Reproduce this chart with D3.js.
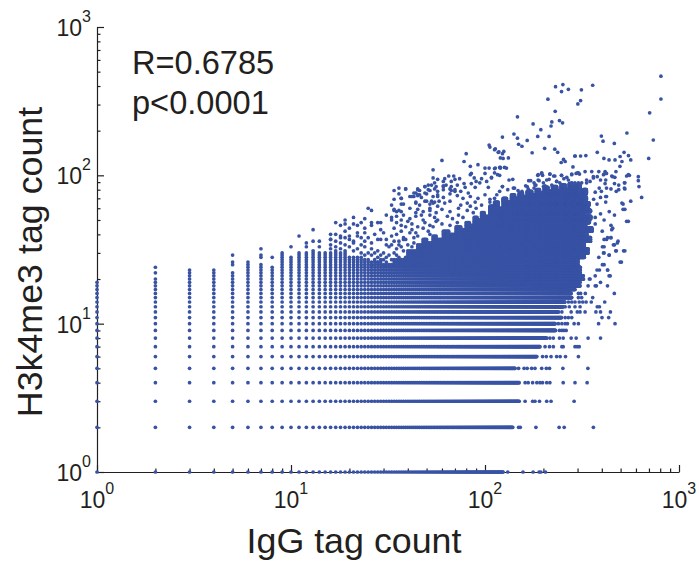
<!DOCTYPE html>
<html>
<head>
<meta charset="utf-8">
<script src="https://cdnjs.cloudflare.com/ajax/libs/d3/7.8.5/d3.min.js"></script>
<style>
  html, body { margin: 0; background: #fff; }
  text { font-family: "Liberation Sans", Arial, sans-serif; fill: #231f20; }
</style>
</head>
<body>
<div id="chart"></div>
<script>
// extents of the solid lattice (tag counts are integers)
const colFromX = [1,2,3,4,5,6,7,8,9,10,11,12,13,14,15,16,20,24,30,34,40,45,48,51,54,57,61,66,71,76,80,84,88,92,96,100,106,112,118,124,130,137,143,150,157,165,175,184,192,202,212,223,235,247,260,272,285,297,310,322,334,345,352,360,390]
const colTopY  = [18,20,23,23,22,26,25,24,30,28,29,30,31,30,30,30,28,26,25,27,31,34,37,35,39,37,42,40,45,43,48,46,52,50,56,53,62,66,60,70,66,74,70,76,72,78,74,80,76,83,78,84,79,86,80,88,82,86,74,80,66,58,44,36,28]

const rowFromY = [1,2,3,4,5,6,7,8,9,10,11,12,13,14,15,16,17,18,20,22,25,28,30,33,36,39,42,45,48,51,54,57,60,63,66,69,72,75,78,81,84,90]
const rowLastX = [124,139,150,150,143,185,192,208,231,230,248,239,253,258,280,278,291,309,321,310,302,325,340,325,350,335,356,330,345,356,320,350,340,356,330,345,325,350,335,310,325,290]

// single points outside the lattice: right-hand tails of the rows
const rowTails = [
  [131,1],[157,1],[177,1],[190,1],[194,1],[205,1],
  [149,2],[152,2],[183,2],[241,2],[256,2],[362,2],
  [161,3],[176,3],[181,3],[191,3],[208,3],[219,3],[288,3],
  [161,4],[167,4],[176,4],[185,4],[192,4],[198,4],[208,4],[216,4],[253,4],[291,4],[336,4],
  [149,5],[159,5],[165,5],[174,5],[181,5],[196,5],[207,5],[215,5],[252,5],[339,5],
  [198,6],[207,6],[219,6],[234,6],[244,6],[260,6],[303,6],
  [204,7],[215,7],[225,7],[249,7],[253,7],[291,7],[299,7],[306,7],
  [216,8],[225,8],[242,8],[253,8],[278,8],[295,8],[340,8],[394,8],
  [242,9],[249,9],[255,9],[262,9],
  [239,10],[249,10],[259,10],[266,10],[288,10],[303,10],[385,10],[468,10],
  [259,11],[269,11],[280,11],[401,11],[434,11],
  [249,12],[278,12],[299,12],[309,12],[328,12],[373,12],[394,12],[443,12],
  [259,13],[272,13],[291,13],[309,13],[379,13],[389,13],
  [269,14],[280,14],[291,14],[306,14],[319,14],[332,14],[353,14],[414,14],
  [303,15],[315,15],[359,15],
  [303,16],[311,16],[329,16],[464,16],
  [345,20],[375,18],[436,21],[389,23],[429,23],[403,25],[497,26],[436,29],[408,30],[472,31],[518,31],[403,33],[459,34],[481,35],[423,37],[445,38],[450,43]
]

// single points above the lattice: the low-count columns
const columnTops = [
  [1,19],[2,22],[2,24],[5,25],[5,26],[5,29],[7,28],[7,29],[7,32],[8,28],[10,33],[11,30],[11,39],[12,33],[12,35],[13,36],[13,43],[14,33],[14,36],
  [16,32],[16,34],[16,37],[16,40],[17,31],[17,33],[17,36],[18,32],[18,35],[18,39],[19,31],[19,34],[19,38],[20,33],[20,37],[21,31],[21,35],[22,32],[22,39],[23,30],[23,34],[24,29],[24,33],
  [16,37],[17,48],[18,46],[19,50],[19,47],[20,44],[21,52],[21,47],[22,46],[23,48],[24,51],[24,44],[25,60],[26,58],[26,48],[26,46],
  [17,40],[18,38],[19,42],[20,39],[21,36],[22,41],[23,38],[24,36],
  [24,41],[25,38],[25,30],[26,35],[26,32],[27,40],[28,37],[28,31],[28,28],[29,37],[29,29],[30,41],[31,37],[31,34],[31,28],[32,33],[33,39],[33,34],[34,30],[35,29],[36,36],[36,28],[37,33],[38,37],[39,28],[40,34],[41,30],[43,38],
  [24,27],[25,27],[26,29],[27,27],[27,30],[28,26],[29,27],[30,27],[30,30],[31,26],[32,29],[33,27],
  [28,48],[29,48],[29,43],[31,54],[33,50],[33,52],[33,63],[34,58],[34,69],[34,79],[35,57],[36,58],[37,70],[37,64],[38,64],[39,81],[43,72],[44,65],[46,74],[47,54],[50,67],[51,80],[52,58],[53,67],[54,65],[57,72],[58,67]
]

// single points above the lattice: the loose cloud and the high-count outliers
const cloudPoints = [
  [807,466],[807,327],[706,264],[737,173],[698,130],[539,193],[359,405],[252,409],[231,396],[269,380],[248,367],[314,377],[311,319],[301,303],[211,326],[230,270],
  [147,248],[177,222],[242,234],[251,226],[221,229],[219,215],[194,203],[141,190],[123,181],[147,178],[187,183],[214,183],[165,172],[398,184],[406,170],[464,164],
  [105,160],[113,151],[118,144],[80,140],[78,124],[60,126],[84,115],[92,118],[54,109],[100,112],[105,112],[113,112],[119,113],
  [54,96],[65,99],[69,99],[62,95],[57,94],[88,96],[100,103],[96,95],[108,96],[112,104],[85,103],[84,101],[119,100],[120,113],
  [74,95],[70,94],[67,91],[61,91],[55,89],[51,86],[49,84],[39,81],[45,81],[46,79],[52,79],[55,81],[61,84],[63,86],[67,84],[72,86],[78,88],[85,88],[90,91],[94,89],[102,91],[104,83],[89,83],[79,83],[70,80],[75,78],[67,79],[61,80],[57,78],[49,76],[42,72],[45,74],[44,76],[37,70],
  [106,155],[112,149],[117,143],[125,145],[123,140],[120,131],[124,130],[132,131],[112,111],[120,112],[126,113],[129,112],[116,101],[108,97],
  [175,142],[149,162],[155,157],[203,152],[229,150],[237,143],[247,122],[254,128],[259,124],[284,114],[290,135],[292,135],[311,135],[331,136],[379,143],[410,130],
  [436,127],[468,127],[497,134],[521,143],[549,136],[564,127],[508,124],[496,115],[473,106],[617,98],[617,92],[622,84],[523,89],[523,82],[642,71],[564,67],[508,65],[515,59],[537,49],[555,100],[537,99]
]

// the thick band just above the solid mass, between x = 34 and x = 113
const bandPoints = [
  [36,82],[45,80],[49,84],[53,86],[56,84],[61,85],[66,81],[70,78],[82,76],
  [36,75],[41,72],[43,76],[45,73],[47,71],[50,75],[54,72],[57,74],[61,71],[66,75],[72,73],[77,70],[84,72],[92,70],[100,74],
  [44,66],[46,63],[49,67],[52,64],[55,66],[57,62],[62,65],[66,67],[75,63],[81,65],[84,62],[89,66],[96,63],[106,66],
  [34,59],[37,57],[41,60],[44,56],[45,59],[48,57],[52,60],[56,56],[60,59],[66,57],[73,60],[81,58],[87,56],[90,60],
  [35,53],[37,50],[38,54],[41,51],[44,53],[48,50],[52,54],[55,52],[57,50],[64,53],[68,51],[73,54],[77,52],
  [35,48],[37,46],[40,49],[42,47],[45,45],[49,48],[52,46],[56,49],[60,47],[66,46],[72,48],
  [34,44],[37,42],[39,45],[42,43],[44,41],[48,44],[51,42],[54,45],
  [35,40],[38,38],[41,41],[45,39],[49,37],[52,40],
  [34,36],[36,34],[39,37],[43,35],[47,33],
  [35,32],[38,31],[42,33]
]

// top edge of the solid mass, between x = 106 and x = 490
const fringePoints = [
  [196,104],[198,100],[187,100],[168,92],[179,89],[188,93],[216,102],[229,99],[200,89],[214,94],[248,100],[255,95],[280,102],[300,104],[307,102],[269,93],[280,89],[291,89],[303,89],[315,89],[334,93],[334,89],
  [123,84],[139,94],[162,85],[183,86],[204,85],[234,91],[243,89],[221,86],[142,82],[155,78],[131,80],[119,78],[115,74],[112,70],[106,69],[148,79],[167,81],[179,82],[229,82],[259,84],
  [133,93],[172,92],[181,86],[188,101],[196,103],[216,102],[190,92],[208,93],[226,99],[248,100],[264,97],[280,101],[295,103],[303,104],[200,84],[234,91],[123,84],[140,82],[165,84],
  [328,106],[362,98],[379,98],[416,106],[408,101],[423,103],[450,99],[467,97],[416,88],[489,86],[423,82],[489,80],[388,82],[423,72],[398,78],[362,96],[348,91]
]

// right edge of the solid mass
const edgePoints = [
  [355,106],[386,106],[411,102],[455,98],[419,93],[394,93],[465,88],[526,89],[548,101],[446,81],[475,78],[526,81],[370,77],[394,71],[419,72],[363,69],[378,64],[419,66],[515,64],[526,59],[437,57],[465,54],[394,55],[370,52],[411,50],[446,46],[455,44],[548,49],[370,47],[402,42],[446,38],[428,38],[411,37],[485,36],[465,34],[411,33],[475,31],[526,31],[437,29],[411,30],[386,28],[505,26],[411,25],[378,23],[428,23],[370,21],[442,21],[348,20],[394,19],[322,20],[428,18],[340,18],[370,18]
]

const xMajors = [1,10,100,1000]
const yMajors = [1,10,100,1000]
const minorSteps = [2,3,4,5,6,7,8,9]

const width = 699, height = 563
const dotColor = '#3953a4'

let x = d3.scaleLog().domain([1,1000]).range([97,679])
let y = d3.scaleLog().domain([1,1000]).range([472,27])

function lookup(from, vals, v) {
  return vals[d3.bisectRight(from, v) - 1]
}

// integer lattice inside the extents, then the single points
let shops = []
for (let i = 1; i <= 480; i++) {
  let top = lookup(colFromX, colTopY, i)
  for (let j = 1; j <= top; j++) {
    if (i <= lookup(rowFromY, rowLastX, j)) shops.push([i, j])
  }
}
shops = shops.concat(rowTails, columnTops, cloudPoints, bandPoints, fringePoints, edgePoints)

let svg = d3.select('#chart').append('svg')
  .attr('width', width)
  .attr('height', height)
  .style('display', 'block')

let ticks = v => xMajors.slice(0, -1).flatMap(m => minorSteps.map(s => m * s)).concat(v)

let xAxis = svg.append('g')
  .attr('transform', 'translate(0,472)')
  .call(d3.axisBottom(x).tickValues(ticks(xMajors)).tickSizeInner(-3.5).tickSizeOuter(0).tickFormat(''))

let yAxis = svg.append('g')
  .attr('transform', 'translate(97,0)')
  .call(d3.axisLeft(y).tickValues(ticks(yMajors)).tickSizeInner(-3.5).tickSizeOuter(0).tickFormat(''))

xAxis.selectAll('.tick line').filter(d => xMajors.includes(d)).attr('y2', -7)
yAxis.selectAll('.tick line').filter(d => yMajors.includes(d)).attr('x2', 7)

svg.selectAll('.domain, .tick line').attr('stroke', '#231f20').attr('stroke-width', 1.2)

svg.append('g').selectAll('circle')
  .data(shops)
  .join('circle')
  .attr('cx', d => x(d[0]))
  .attr('cy', d => y(d[1]))
  .attr('r', 1.85)
  .attr('fill', dotColor)

function power(el, v) {
  el.append('tspan').attr('font-size', 23).text('10')
  el.append('tspan').attr('font-size', 16).attr('dy', -14).text(Math.round(Math.log10(v)))
}

svg.append('g').selectAll('text')
  .data(xMajors)
  .join('text')
  .attr('x', d => x(d))
  .attr('y', 508)
  .attr('text-anchor', 'middle')
  .each(function(d) { power(d3.select(this), d) })

svg.append('g').selectAll('text')
  .data(yMajors)
  .join('text')
  .attr('x', 91)
  .attr('y', d => y(d) + 9)
  .attr('text-anchor', 'end')
  .each(function(d) { power(d3.select(this), d) })

svg.append('text')
  .attr('x', 354)
  .attr('y', 553)
  .attr('text-anchor', 'middle')
  .attr('font-size', 35.8)
  .text('IgG tag count')

svg.append('text')
  .attr('transform', 'translate(42,262) rotate(-90)')
  .attr('text-anchor', 'middle')
  .attr('font-size', 35.8)
  .text('H3k4me3 tag count')

svg.append('text').attr('x', 132).attr('y', 74).attr('font-size', 32.6).text('R=0.6785')
svg.append('text').attr('x', 132).attr('y', 114).attr('font-size', 32.6).text('p<0.0001')
</script>
</body>
</html>
